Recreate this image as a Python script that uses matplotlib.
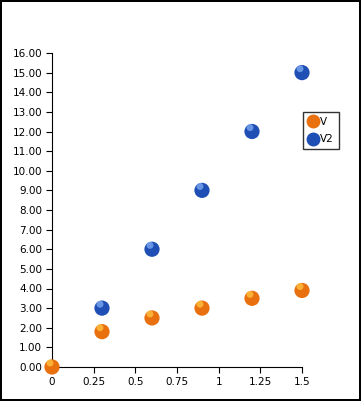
import matplotlib.pyplot as plt
from matplotlib.lines import Line2D

x_v = [0, 0.3, 0.6, 0.9, 1.2, 1.5]
y_v = [0.0, 1.8, 2.5, 3.0, 3.5, 3.9]
x_v2 = [0.3, 0.6, 0.9, 1.2, 1.5]
y_v2 = [3.0, 6.0, 9.0, 12.0, 15.0]
x_ticks = [0, 0.25, 0.5, 0.75, 1, 1.25, 1.5]
x_labels = ['0', '0.25', '0.5', '0.75', '1', '1.25', '1.5']
y_ticks = list(range(0, 17))

ORANGE = '#e8700e'
ORANGE_HI = '#ffc040'
BLUE = '#1f4fb4'
BLUE_HI = '#7aa8f0'

fig = plt.figure(figsize=(3.61, 4.01), dpi=100)
fig.patch.set_edgecolor('black')
fig.patch.set_linewidth(1.5)
ax = fig.add_axes([52 / 361, 34 / 401, 250 / 361, 314 / 401])

def balls(xs, ys, base, hi):
    # fake shaded sphere: base disc, lighter highlight on top
    ax.scatter(xs, ys, s=120, color=base, edgecolors='none', zorder=3, clip_on=False)
    ax.scatter([x - 0.012 for x in xs], [y + 0.2 for y in ys], s=25, color=hi,
               edgecolors='none', alpha=0.8, zorder=4, clip_on=False)

balls(x_v, y_v, ORANGE, ORANGE_HI)
balls(x_v2, y_v2, BLUE, BLUE_HI)

ax.set_xlim(0, 1.5)
ax.set_ylim(0, 16)
ax.set_xticks(x_ticks)
ax.set_xticklabels(x_labels)
ax.set_yticks(y_ticks)
ax.set_yticklabels([f'{v:.2f}' for v in y_ticks])
ax.tick_params(labelsize=7.5, length=4, width=0.8, pad=3)
ax.spines['top'].set_visible(False)
ax.spines['right'].set_visible(False)

handles = [
    Line2D([], [], marker='o', linestyle='none', color=ORANGE, markersize=9),
    Line2D([], [], marker='o', linestyle='none', color=BLUE, markersize=9),
]
fig.legend(handles, ['V', 'V2'], loc='upper left', bbox_to_anchor=(303 / 361, 1 - 112 / 401),
           fontsize=7.5, frameon=True, fancybox=False, edgecolor='black',
           handlelength=1, handletextpad=0.2, borderpad=0.45, labelspacing=0.75,
           borderaxespad=0)

fig.savefig('out.png', dpi=100, edgecolor=fig.get_edgecolor())
